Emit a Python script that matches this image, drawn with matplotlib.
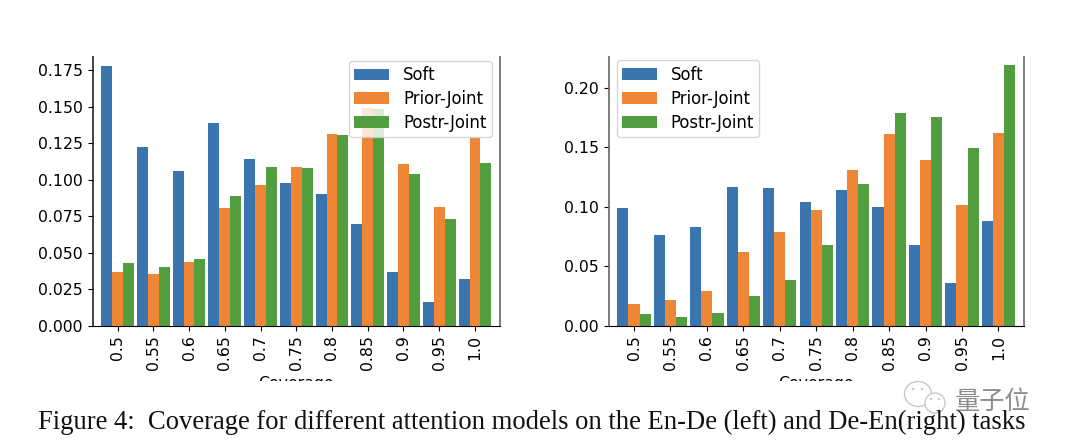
import numpy as np
import matplotlib
matplotlib.use('Agg')
import matplotlib.pyplot as plt
from matplotlib.patches import Ellipse, Rectangle

# Coverage buckets
coverage = ['0.5', '0.55', '0.6', '0.65', '0.7', '0.75', '0.8', '0.85', '0.9', '0.95', '1.0']

# En-De (left)
soft_left = [0.178, 0.122, 0.106, 0.1385, 0.114, 0.0975, 0.090, 0.0695, 0.0365, 0.016, 0.032]
prior_left = [0.0365, 0.035, 0.0435, 0.0805, 0.096, 0.1085, 0.131, 0.149, 0.1105, 0.081, 0.1287]
postr_left = [0.043, 0.040, 0.0455, 0.089, 0.1085, 0.108, 0.1305, 0.148, 0.1035, 0.0727, 0.111]

# De-En (right)
soft_right = [0.099, 0.076, 0.083, 0.1165, 0.1157, 0.104, 0.114, 0.0997, 0.0678, 0.0358, 0.088]
prior_right = [0.018, 0.0215, 0.029, 0.062, 0.0787, 0.097, 0.131, 0.161, 0.139, 0.1014, 0.162]
postr_right = [0.0098, 0.0073, 0.0106, 0.025, 0.0384, 0.0678, 0.119, 0.1787, 0.1753, 0.149, 0.219]

caption = 'Figure 4:  Coverage for different attention models on the En-De (left) and De-En(right) tasks'

W, H = 1066, 446
blue, orange, green = '#3a75af', '#ef8636', '#529e3f'


def draw_panel(rect, soft, prior, postr, ylim, yticks, fmt, legend_loc, left_color):
    left, top, right, bottom = rect
    ax = fig.add_axes([left / W, 1 - bottom / H, (right - left) / W, (bottom - top) / H])
    x = np.arange(len(coverage))
    width = 0.305
    ax.bar(x - width, soft, width, color=blue, label='Soft')
    ax.bar(x, prior, width, color=orange, label='Prior-Joint')
    ax.bar(x + width, postr, width, color=green, label='Postr-Joint')
    ax.set_xlim(-0.70, 10.70)
    ax.set_ylim(0, ylim)
    ax.set_xticks(x)
    ax.set_xticklabels(coverage, rotation=90, fontsize=11.3)
    ax.set_yticks(yticks)
    ax.set_yticklabels([fmt % t for t in yticks], fontsize=11.3)
    ax.spines['top'].set_visible(False)
    ax.spines['right'].set_color('#666666')
    ax.spines['right'].set_linewidth(1.2)
    ax.spines['left'].set_color(left_color)
    ax.spines['left'].set_linewidth(1.2)
    ax.legend(loc=legend_loc, fontsize=11.9, labelspacing=0.36, handlelength=2.1,
              handleheight=0.73, handletextpad=0.85, borderpad=0.32, borderaxespad=0.5)
    ax.set_xlabel('Coverage', fontsize=11.3)
    return ax


fig = plt.figure(figsize=(W / 100, H / 100), dpi=100)

draw_panel((92.5, 52.7, 500, 325.5), soft_left, prior_left, postr_left, 0.1869,
           [0, 0.025, 0.05, 0.075, 0.1, 0.125, 0.15, 0.175], '%.3f', 'upper right', '#222222')
draw_panel((608.5, 52.2, 1024, 325.5), soft_right, prior_right, postr_right, 0.22995,
           [0, 0.05, 0.1, 0.15, 0.2], '%.2f', 'upper left', '#666666')

# the source figure was cropped through the axis labels and the spine tops
fig.add_artist(Rectangle((0, 0), 1, (H - 381) / H, transform=fig.transFigure,
                         facecolor='white', edgecolor='none', zorder=5))
fig.add_artist(Rectangle((0, (H - 56) / H), 1, 56 / H, transform=fig.transFigure,
                         facecolor='white', edgecolor='none', zorder=5))

# watermark
for cx, cy, w, h in [(918, 394, 27, 25), (935, 403, 20, 20)]:
    fig.add_artist(Ellipse((cx / W, 1 - cy / H), w / W, h / H, transform=fig.transFigure,
                           facecolor='white', edgecolor='#c8c8c8', lw=1, zorder=6))
for cx, cy in [(913, 389), (922, 389), (931, 399), (939, 399)]:
    fig.add_artist(Ellipse((cx / W, 1 - cy / H), 2.5 / W, 2.5 / H, transform=fig.transFigure,
                           facecolor='#c8c8c8', edgecolor='none', zorder=6))
fig.text(955 / W, 1 - 409 / H, '量子位', family='Noto Sans CJK SC', fontsize=18.2,
         fontweight='light', color='#8c8c8c', zorder=6)

fig.text(38 / W, 1 - 429 / H, caption, family='Liberation Serif', fontsize=19.13,
         color='#111111', zorder=7)

fig.savefig('out.png', dpi=100)
